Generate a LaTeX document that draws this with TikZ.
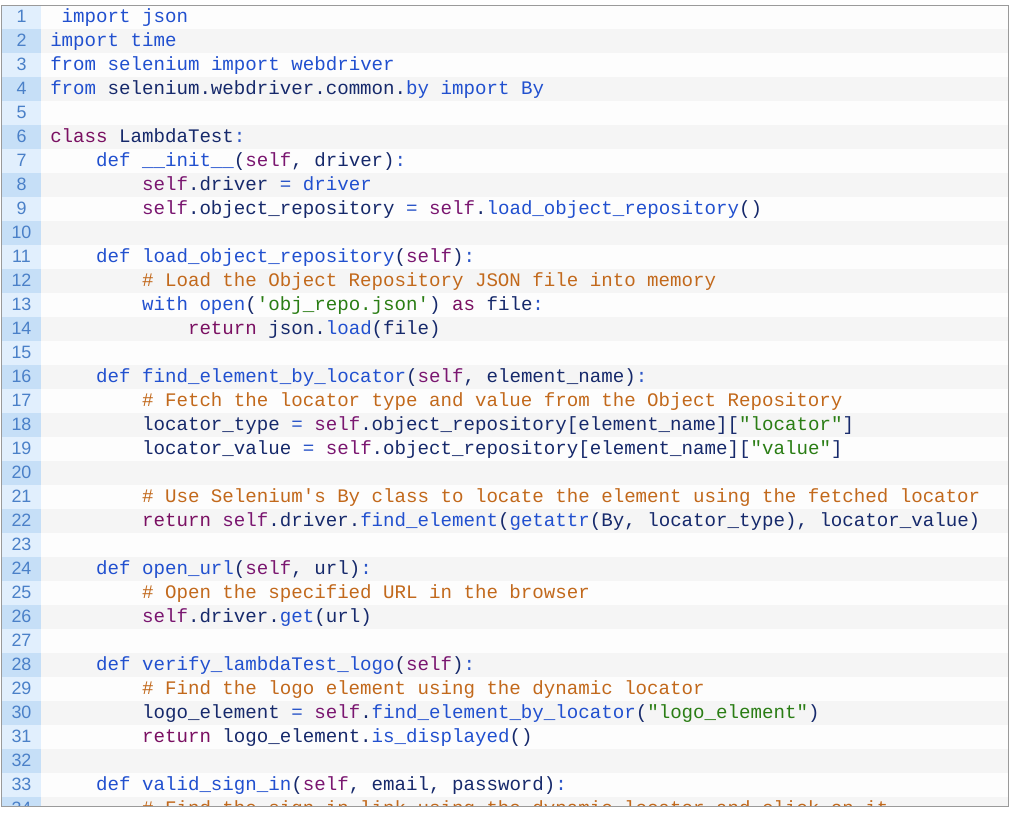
\documentclass[tikz,border=0pt]{standalone}
\usepackage{fontspec}
\setmonofont{Liberation Mono}
\newfontfamily\numfont{Liberation Sans}
\definecolor{ckw}{HTML}{2150CF}
\definecolor{cid}{HTML}{16296B}
\definecolor{cself}{HTML}{7A1670}
\definecolor{cpk}{HTML}{7A1062}
\definecolor{ccm}{HTML}{C2691C}
\definecolor{cst}{HTML}{2A7D14}
\definecolor{cop}{HTML}{2A55C8}
\definecolor{gutlight}{HTML}{E1EFFD}
\definecolor{gutdark}{HTML}{C6DFF7}
\definecolor{gutnum}{HTML}{4A80C8}
\definecolor{rowodd}{HTML}{FDFDFD}
\definecolor{roweven}{HTML}{F5F5F5}
\definecolor{frame}{HTML}{9A9A9A}
\newcommand\xkw[1]{\textcolor{ckw}{#1}}
\newcommand\xfn[1]{\textcolor{ckw}{#1}}
\newcommand\xself[1]{\textcolor{cself}{#1}}
\newcommand\xpk[1]{\textcolor{cpk}{#1}}
\newcommand\xcm[1]{\textcolor{ccm}{#1}}
\newcommand\xst[1]{\textcolor{cst}{#1}}
\newcommand\xop[1]{\textcolor{cop}{#1}}
\newcommand\codeline[3]{%
  \node[codetext] (l#1) at ({50+#2*11.48},{5+24*(#1-1)+17}) {#3};}
\begin{document}
\begin{tikzpicture}[x=0.75pt,y=-0.75pt,
  codetext/.style={anchor=base west,inner sep=0pt,text=cid,font=\ttfamily\fontsize{14.35pt}{17pt}\selectfont},
  numtext/.style={anchor=base,inner sep=0pt,text=gutnum,font=\numfont\fontsize{13.4pt}{15pt}\selectfont},
  framebox/.style={draw=frame,line width=0.75pt}]
\useasboundingbox (0,0) rectangle (1014,814);
\fill[white] (0,0) rectangle (1014,814);
\begin{scope}
\clip (1,5.5) rectangle (1008.5,806);
\foreach \k in {1,...,34}{
  \pgfmathtruncatemacro\rowpar{mod(\k,2)}
  \ifnum\rowpar=0
    \fill[roweven] (41,{5+24*(\k-1)}) rectangle (1008.5,{5+24*\k});
    \fill[gutdark] (1,{5+24*(\k-1)}) rectangle (41,{5+24*\k});
  \else
    \fill[rowodd] (41,{5+24*(\k-1)}) rectangle (1008.5,{5+24*\k});
    \fill[gutlight] (1,{5+24*(\k-1)}) rectangle (41,{5+24*\k});
  \fi
  \node[numtext] (n\k) at (21.5,{5+24*(\k-1)+17.5}) {\k};
}
\codeline{1}{1}{\xkw{import} \xkw{json}}
\codeline{2}{0}{\xkw{import} \xkw{time}}
\codeline{3}{0}{\xkw{from} \xkw{selenium} \xkw{import} \xkw{webdriver}}
\codeline{4}{0}{\xkw{from} selenium.webdriver.common.\xkw{by} \xkw{import} \xkw{By}}
\codeline{6}{0}{\xpk{class} LambdaTest\xop{:}}
\codeline{7}{4}{\xkw{def} \xfn{\_\_init\_\_}(\xself{self}, driver)\xop{:}}
\codeline{8}{8}{\xself{self}.driver \xop{=} \xkw{driver}}
\codeline{9}{8}{\xself{self}.object\_repository \xop{=} \xself{self}.\xfn{load\_object\_repository}()}
\codeline{11}{4}{\xkw{def} \xfn{load\_object\_repository}(\xself{self})\xop{:}}
\codeline{12}{8}{\xcm{\# Load the Object Repository JSON file into memory}}
\codeline{13}{8}{\xkw{with} \xfn{open}(\xst{'obj\_repo.json'}) \xpk{as} file\xop{:}}
\codeline{14}{12}{\xpk{return} json.\xfn{load}(file)}
\codeline{16}{4}{\xkw{def} \xfn{find\_element\_by\_locator}(\xself{self}, element\_name)\xop{:}}
\codeline{17}{8}{\xcm{\# Fetch the locator type and value from the Object Repository}}
\codeline{18}{8}{locator\_type \xop{=} \xself{self}.object\_repository[element\_name][\xst{"locator"}]}
\codeline{19}{8}{locator\_value \xop{=} \xself{self}.object\_repository[element\_name][\xst{"value"}]}
\codeline{21}{8}{\xcm{\# Use Selenium's By class to locate the element using the fetched locator}}
\codeline{22}{8}{\xpk{return} \xself{self}.driver.\xfn{find\_element}(\xfn{getattr}(By, locator\_type), locator\_value)}
\codeline{24}{4}{\xkw{def} \xfn{open\_url}(\xself{self}, url)\xop{:}}
\codeline{25}{8}{\xcm{\# Open the specified URL in the browser}}
\codeline{26}{8}{\xself{self}.driver.\xfn{get}(url)}
\codeline{28}{4}{\xkw{def} \xfn{verify\_lambdaTest\_logo}(\xself{self})\xop{:}}
\codeline{29}{8}{\xcm{\# Find the logo element using the dynamic locator}}
\codeline{30}{8}{logo\_element \xop{=} \xself{self}.\xfn{find\_element\_by\_locator}(\xst{"logo\_element"})}
\codeline{31}{8}{\xpk{return} logo\_element.\xfn{is\_displayed}()}
\codeline{33}{4}{\xkw{def} \xfn{valid\_sign\_in}(\xself{self}, email, password)\xop{:}}
\codeline{34}{8}{\xcm{\# Find the sign in link using the dynamic locator and click on it}}
\end{scope}
\draw[framebox] (1,5.5) rectangle (1008.5,806);
\end{tikzpicture}
\end{document}
